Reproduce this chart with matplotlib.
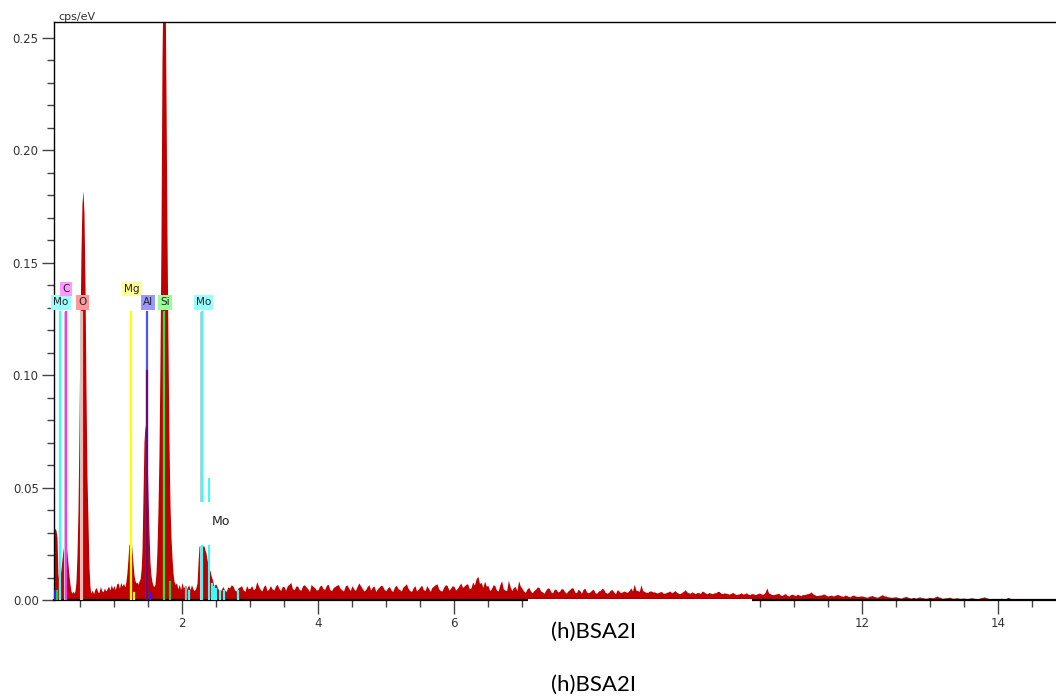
import numpy as np
import matplotlib
matplotlib.use('Agg')
import matplotlib.pyplot as plt
from matplotlib.patches import Rectangle

# Spectrum, low energy part (keV, 1e-3 cps/eV)
peak_energy = [0.118, 0.132, 0.147, 0.162, 0.176, 0.191, 0.206, 0.221, 0.235, 0.250,
               0.265, 0.279, 0.294, 0.309, 0.324, 0.338, 0.353, 0.368, 0.382, 0.397,
               0.412, 0.426, 0.441, 0.456, 0.471, 0.485, 0.500, 0.515, 0.529, 0.544,
               0.559, 0.574, 0.588, 0.603, 0.618, 0.632, 0.647,
               0.66, 0.68, 0.70, 0.72, 0.74, 0.76, 0.78, 0.80, 0.82, 0.84,
               0.86, 0.88, 0.90, 0.92, 0.94, 0.96, 0.98, 1.00, 1.02, 1.04,
               1.06, 1.08, 1.10, 1.12, 1.14, 1.16,
               1.175, 1.19, 1.205, 1.22, 1.235, 1.25, 1.265, 1.28, 1.295, 1.31,
               1.325, 1.34, 1.355, 1.37, 1.385, 1.40,
               1.412, 1.426, 1.441, 1.456, 1.471, 1.485, 1.50, 1.515, 1.529, 1.544,
               1.56, 1.574, 1.59, 1.603, 1.618,
               1.632, 1.647, 1.662, 1.676, 1.691, 1.706, 1.721, 1.735, 1.75, 1.765,
               1.779, 1.794, 1.809, 1.824, 1.838, 1.853, 1.868, 1.882, 1.90, 1.92,
               1.94, 1.96, 1.98, 2.00, 2.02, 2.04, 2.06, 2.08, 2.10, 2.12,
               2.14, 2.16, 2.18, 2.20,
               2.221, 2.235, 2.25, 2.265, 2.28, 2.294, 2.31, 2.324, 2.34, 2.353,
               2.368, 2.382, 2.397, 2.412, 2.426, 2.441, 2.456, 2.471, 2.485]
peak_counts = [30, 32, 31, 28, 12, 8, 10, 14, 18, 22,
               25, 27, 26, 21, 16, 11, 7, 4, 3, 4,
               3, 4, 8, 20, 40, 75, 120, 155, 176, 182,
               172, 140, 95, 55, 35, 15, 6,
               3.0, 4.4, 2.8, 4.8, 5.6, 3.6, 3.4, 6.0, 4.2, 3.6,
               5.4, 4.0, 5.0, 6.2, 4.4, 6.8, 5.0, 6.4, 4.6, 7.2,
               7.6, 5.2, 7.8, 6.2, 7.4, 5.8,
               8.0, 12, 18, 25, 24, 28, 22, 16, 11, 8.5,
               7.5, 8.0, 7.0, 8.5, 9.5, 14,
               22, 45, 70, 78, 74, 66, 48, 30, 17, 11,
               8, 6.5, 6.0, 7.0, 12,
               22, 40, 65, 105, 160, 240, 275, 300, 280, 225,
               165, 115, 70, 42, 28, 19, 12, 8.5, 7.0, 7.5,
               5.0, 7.0, 4.6, 7.8, 5.4, 6.2, 4.2, 5.8, 6.6, 4.6,
               6.8, 5.0, 4.2, 5.0,
               7.4, 16, 24, 24, 24, 24, 24, 24, 22, 21,
               18, 16, 14, 13, 11, 9.7, 8.0, 6.0, 7.0]

# Background from 2.50 keV, one channel every 0.025 keV (1e-3 cps/eV)
bg_start = 2.50
bg_step = 0.025
bg_counts = [
    7.0, 5.2, 4.0, 4.4, 6.0, 4.6, 3.8, 5.8, 5.4, 6.8, 6.2, 4.4, 4.0, 5.4, 5.8, 6.4, 4.6, 3.8, 6.4, 5.0,
    5.2, 6.4, 4.6, 5.2, 8.2, 6.2, 4.8, 4.0, 6.0, 6.8, 4.2, 4.8, 6.4, 5.0, 4.4, 6.2, 7.0, 5.2, 4.2, 6.0,
    6.0, 4.4, 6.4, 7.0, 7.8, 5.0, 4.6, 6.2, 6.2, 4.6, 4.4, 6.4, 6.8, 5.8, 5.0, 3.8, 7.0, 6.0, 5.6, 4.4,
    4.6, 6.2, 6.6, 5.0, 4.8, 6.6, 7.0, 4.6, 4.2, 5.6, 6.0, 6.6, 6.8, 5.2, 4.6, 4.0, 6.2, 6.8, 5.4, 4.2,
    6.4, 5.0, 4.2, 6.0, 7.6, 6.4, 5.2, 4.0, 4.6, 6.0, 6.8, 4.4, 5.8, 6.2, 3.8, 5.0, 5.8, 6.6, 6.2, 4.6,
    4.2, 5.4, 6.0, 4.4, 3.8, 5.8, 6.6, 5.2, 4.6, 4.0, 5.8, 6.4, 7.2, 5.2, 4.2, 3.8, 5.4, 6.4, 4.0, 4.8,
    5.8, 6.6, 4.6, 4.2, 6.4, 5.2, 3.8, 5.6, 6.2, 6.8, 7.2, 5.0, 4.2, 4.0, 5.8, 6.8, 6.4, 4.4, 5.2, 6.4,
    6.0, 4.4, 5.2, 6.4, 7.6, 5.6, 6.2, 7.0, 7.2, 5.0, 5.4, 8.0, 6.6, 9.4, 10.6, 7.4, 7.8, 5.6, 8.4, 6.2,
    6.4, 4.2, 5.0, 6.8, 6.4, 4.4, 4.0, 6.8, 8.6, 5.0, 4.4, 4.2, 8.8, 6.0, 4.2, 5.6, 6.0, 4.2, 8.6, 6.2,
    5.2, 4.0, 3.4, 5.0, 5.6, 4.0, 3.2, 4.2, 4.8, 5.8, 5.6, 4.0, 3.6, 3.0, 4.4, 5.4, 5.2, 3.6, 3.2, 4.8,
    4.8, 3.6, 3.8, 5.0, 5.0, 3.8, 3.0, 4.0, 4.6, 5.4, 5.4, 3.6, 3.2, 4.8, 4.2, 3.0, 4.8, 5.2, 3.6, 3.2,
    3.6, 4.4, 4.8, 3.2, 3.0, 4.0, 4.2, 5.2, 4.8, 3.4, 3.0, 3.4, 4.4, 4.6, 3.6, 2.8, 4.6, 4.0, 3.2, 3.6,
    4.0, 3.6, 3.4, 4.2, 5.4, 4.0, 7.0, 4.4, 4.2, 3.8, 6.8, 4.2, 3.8, 3.4, 3.4, 4.0, 4.0, 3.6, 3.6, 3.2,
    3.2, 3.6, 3.8, 3.0, 3.0, 3.4, 3.6, 4.0, 3.2, 3.6, 4.2, 3.4, 3.0, 2.8, 3.4, 3.8, 4.6, 3.6, 3.2, 3.0,
    3.6, 3.2, 2.8, 3.4, 3.2, 3.0, 4.0, 3.6, 3.0, 2.8, 3.4, 3.0, 2.8, 3.2, 3.2, 3.8, 3.8, 3.0, 2.8, 3.2,
    3.0, 2.8, 2.6, 3.0, 3.4, 2.8, 2.4, 2.6, 2.8, 3.2, 2.6, 2.8, 3.2, 2.6, 2.4, 2.8, 2.8, 2.4, 2.6, 3.0,
    3.0, 2.6, 2.6, 3.4, 5.4, 3.2, 2.8, 2.4, 2.4, 2.6, 2.8, 3.0, 2.2, 2.0, 2.6, 2.8, 2.0, 1.8, 2.4, 2.6,
    2.2, 2.0, 2.6, 2.2, 2.0, 2.4, 2.4, 2.6, 2.8, 3.0, 3.6, 2.8, 2.4, 2.0, 2.0, 2.2, 2.2, 2.6, 2.6, 2.0,
    1.8, 2.0, 2.2, 1.8, 2.0, 2.4, 2.4, 2.0, 1.8, 1.6, 2.2, 2.0, 1.6, 1.4, 2.0, 2.2, 1.8, 1.6, 1.6, 1.8,
    1.8, 1.6, 1.4, 1.2, 1.6, 1.8, 2.0, 1.6, 1.4, 1.2, 1.6, 2.0, 2.4, 1.8, 1.8, 1.4, 1.4, 1.2, 1.2, 1.4,
    1.4, 1.2, 1.0, 0.8, 1.2, 1.4, 1.6, 1.2, 1.0, 0.8, 1.2, 1.0, 0.9, 1.2, 1.4, 1.0, 1.0, 0.8, 0.8, 1.0,
    1.2, 1.0, 1.0, 1.4, 1.8, 1.4, 1.2, 0.8, 0.8, 1.0, 1.0, 1.2, 1.2, 0.8, 0.8, 0.9, 1.0, 0.8, 0.7, 0.8,
    0.9, 0.7, 0.6, 0.8, 1.0, 0.9, 0.8, 0.6, 0.6, 0.8, 1.0, 1.2, 1.4, 1.0, 0.8, 0.6, 0.6, 0.7, 0.7, 0.6,
    0.6, 0.7, 0.8, 0.6, 0.5, 0.8, 1.2, 0.8, 0.6, 0.4, 0.4, 0.5, 0.6, 0.4, 0.3, 0.4, 0.4, 0.3, 0.2, 0.2,
    0.2, 0.1, 0.1, 0.2, 0.2, 0.1, 0.1, 0.1, 0.1, 0.0, 0.0, 0.1, 0.1, 0.0, 0.0]

# Element markers
mark_names = ['Mo', 'C', 'O', 'Mg', 'Al', 'Si', 'Mo']
mark_energy = [0.206, 0.29, 0.525, 1.25, 1.487, 1.74, 2.29]
mark_line = ['#33ffff', '#ff33ff', '#ffb0a8', '#ffff00', '#5050ff', '#22ee22', '#33ffff']
mark_box = ['#99ffff', '#ff99ff', '#ff9999', '#ffff99', '#9999ff', '#99ff99', '#99ffff']
mark_row = [0, 1, 0, 1, 0, 0, 0]
mark_label_x = [0.22, 0.294, 0.537, 1.265, 1.50, 1.75, 2.316]

# small line stubs at the bottom
stub_energy = [0.13, 0.16, 1.29, 1.53, 1.82, 2.06, 2.10, 2.44, 2.47, 2.50, 2.56, 2.62, 2.82]
stub_height = [0.004, 0.004, 0.003, 0.003, 0.008, 0.006, 0.004, 0.007, 0.006, 0.005, 0.004, 0.004, 0.004]
stub_color = ['#2020ff', '#22cc22', '#ffff00', '#2020ff', '#22cc22', '#aaaaaa', '#33ffff',
              '#33ffff', '#33ffff', '#33ffff', '#33ffff', '#33ffff', '#33ffff']

energy = np.concatenate([peak_energy, bg_start + bg_step*np.arange(len(bg_counts))])
counts = np.concatenate([peak_counts, bg_counts])*1e-3

W, H = 1056., 700.
fig = plt.figure(figsize=(10.56, 7.0), dpi=100)
ax = fig.add_axes([54/W, 100/H, 1002/W, 578/H])

ax.fill_between(energy, 0, counts, color='#c00000', lw=0, zorder=2)

# marker lines
for name, e, lc in zip(mark_names, mark_energy, mark_line):
    if name == 'Mo' and e > 2:
        segs = [(0, 0.024), (0.044, 0.128)]
    else:
        segs = [(0, 0.128)]
    for lo, hi in segs:
        ax.plot([e - 0.018, e - 0.018], [lo, hi], color='#cccccc', lw=0.8, zorder=3)
        ax.plot([e, e], [lo, hi], color=lc, lw=1.6, zorder=4)
# second Mo L line
for lo, hi in [(0, 0.024), (0.044, 0.054)]:
    ax.plot([2.395, 2.395], [lo, hi], color='#33ffff', lw=1.4, zorder=4)
    ax.plot([2.38, 2.38], [lo, hi], color='#cccccc', lw=0.8, zorder=3)
# Al line through the peak
ax.plot([1.487, 1.487], [0, 0.102], color='#6a0a7a', lw=1.6, zorder=4)

for e, h, c in zip(stub_energy, stub_height, stub_color):
    ax.plot([e, e], [0, h], color=c, lw=1.6, zorder=4)

for name, lx, bc, row in zip(mark_names, mark_label_x, mark_box, mark_row):
    ax.text(lx, 0.1323 + 0.006*row, name, ha='center', va='center', fontsize=7.5,
            color='#222222', zorder=6,
            bbox=dict(boxstyle='square,pad=0.2', fc=bc, ec='none'))

ax.text(2.57, 0.0347, 'Mo', ha='center', va='center', fontsize=9, color='#222222', zorder=6)

ax.set_xlim(0.118, 14.853)
ax.set_ylim(0, 0.257)

ax.set_xticks([2, 4, 6, 12, 14])
ax.set_xticks([t for t in np.arange(0.5, 14.6, 0.5) if t not in (2, 4, 6, 12, 14)], minor=True)
ax.set_yticks([0, 0.05, 0.10, 0.15, 0.20, 0.25])
ax.set_yticks(np.arange(0.01, 0.255, 0.01), minor=True)
ax.set_yticklabels(['0.00', '0.05', '0.10', '0.15', '0.20', '0.25'])
ax.tick_params(axis='both', which='major', labelsize=8.5, labelcolor='#333333',
               color='#444444', width=1.0)
ax.tick_params(axis='x', which='major', length=10, pad=2)
ax.tick_params(axis='y', which='major', length=9, pad=2)
ax.tick_params(axis='both', which='minor', length=5, color='#444444', width=1.0)

ax.spines['right'].set_visible(False)
ax.spines['left'].set_linewidth(1.0)
ax.spines['top'].set_linewidth(1.0)
ax.spines['bottom'].set_linewidth(1.6)

fig.text(58/W, 1 - 17/H, 'cps/eV', fontsize=8, color='#333333', va='center', ha='left')

# blank area over the axis between ~7 and ~10.4 keV
fig.patches.append(Rectangle((528/W, 1 - 660/H), 224/W, 61/H, transform=fig.transFigure,
                             facecolor='white', edgecolor='none', zorder=5))

fig.text(593/W, 1 - 632/H, '(h)BSA2I', fontsize=16, family=['Lato', 'DejaVu Sans'],
         ha='center', va='center', zorder=6)
fig.text(593/W, 1 - 685/H, '(h)BSA2I', fontsize=16, family=['Lato', 'DejaVu Sans'],
         ha='center', va='center', zorder=6)

fig.savefig('out.png', dpi=100)
